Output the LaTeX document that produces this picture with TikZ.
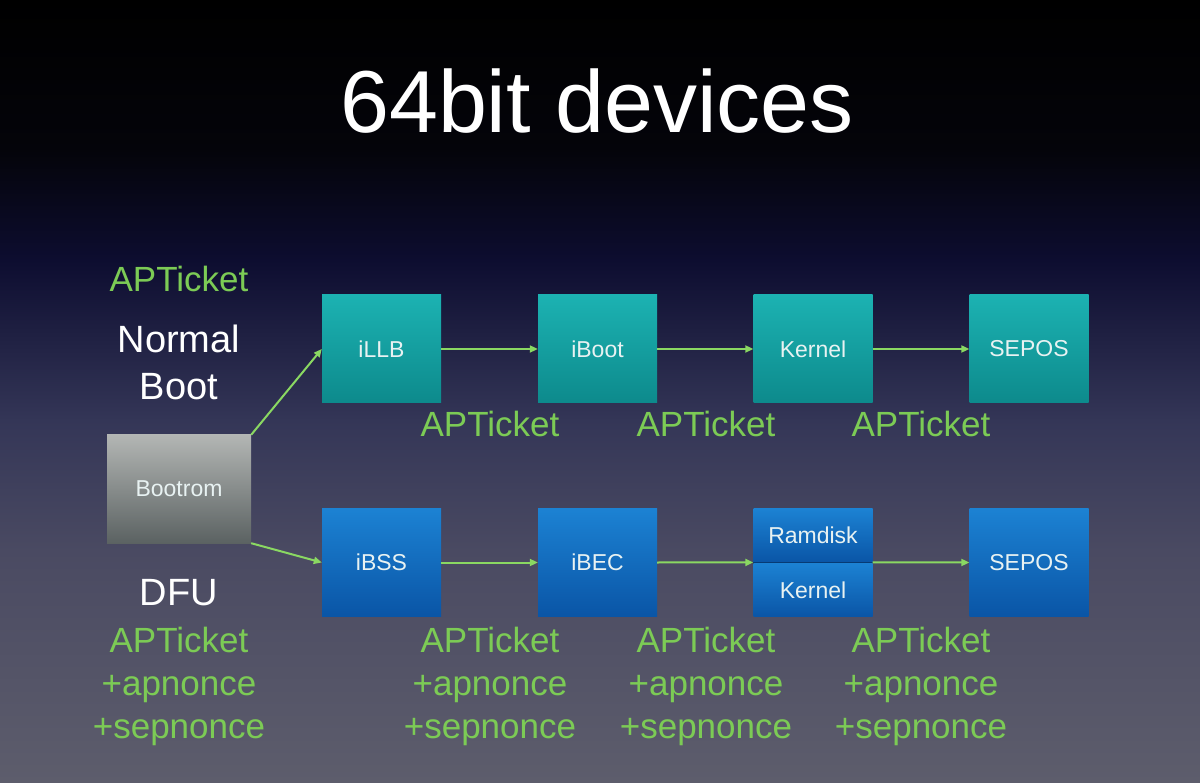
\documentclass[tikz,border=0pt]{standalone}
\usepackage{fontspec}
\setmainfont{Liberation Sans}
\usetikzlibrary{arrows.meta}

\definecolor{bgA}{HTML}{000000}
\definecolor{bgB}{HTML}{04040A}
\definecolor{bgC}{HTML}{0D0D30}
\definecolor{bgD}{HTML}{343657}
\definecolor{bgE}{HTML}{4A4A62}
\definecolor{bgF}{HTML}{5D5D6C}
\definecolor{tealtop}{HTML}{1CB2B2}
\definecolor{tealbot}{HTML}{0D8A8C}
\definecolor{bluetop}{HTML}{1C82D3}
\definecolor{bluebot}{HTML}{0A55A6}
\definecolor{romtop}{HTML}{B3B6B4}
\definecolor{rombot}{HTML}{5B6262}
\definecolor{boxtext}{HTML}{E8F2F2}
\definecolor{ticketgreen}{HTML}{7CCB55}
\definecolor{flowgreen}{HTML}{8AD862}

\begin{document}
\begin{tikzpicture}[x=1pt,y=-1pt,
  stage/.style={minimum width=119pt,minimum height=108pt,inner sep=0pt,
    text=boxtext,font=\fontsize{23}{27}\selectfont},
  tealbox/.style={top color=tealtop,bottom color=tealbot},
  bluebox/.style={top color=bluetop,bottom color=bluebot},
  halfbox/.style={stage,bluebox,minimum height=53.5pt},
  flow/.style={flowgreen,line width=2pt,-{Triangle[length=8pt,width=7pt]}},
  ticket/.style={anchor=base,text=ticketgreen,font=\fontsize{35}{40}\selectfont},
  caption/.style={anchor=base,text=white,font=\fontsize{38}{44}\selectfont}]
\useasboundingbox (0,0) rectangle (1200,783);

% slide background
\shade[top color=bgA,bottom color=bgB] (0,0) rectangle (1200,151);
\shade[top color=bgB,bottom color=bgC] (0,150) rectangle (1200,261);
\shade[top color=bgC,bottom color=bgD] (0,260) rectangle (1200,421);
\shade[top color=bgD,bottom color=bgE] (0,420) rectangle (1200,551);
\shade[top color=bgE,bottom color=bgF] (0,550) rectangle (1200,783);

\node[anchor=base,text=white,font=\fontsize{88}{100}\selectfont] (title) at (597,133) {64bit devices};

% normal boot chain
\node[stage,tealbox] (illb) at (381.5,349) {iLLB};
\node[stage,tealbox] (iboot) at (597.5,349) {iBoot};
\node[stage,tealbox] (kernel) at (813,349) {Kernel};
\node[stage,tealbox] (sepos) at (1029,349) {SEPOS};

% dfu chain
\node[stage,bluebox] (ibss) at (381.5,562.5) {iBSS};
\node[stage,bluebox] (ibec) at (597.5,562.5) {iBEC};
\node[halfbox] (ramdisk) at (813,535.5) {Ramdisk};
\node[halfbox] (dfukernel) at (813,590) {Kernel};
\node[stage,bluebox] (dfusepos) at (1029,562.5) {SEPOS};
\draw[bluebot!70!black,line width=1.2pt] (ramdisk.south west) -- (ramdisk.south east);

\node[stage,top color=romtop,bottom color=rombot,minimum width=144pt] (bootrom) at (179,489) {Bootrom};

\draw[flow] (bootrom.north east) -- (illb.west);
\draw[flow] (bootrom.south east) -- (ibss.west);
\draw[flow] (illb) -- (iboot);
\draw[flow] (iboot) -- (kernel);
\draw[flow] (kernel) -- (sepos);
\draw[flow] (ibss) -- (ibec);
\draw[flow] (ibec.east) -- (ramdisk.south west);
\draw[flow] (ramdisk.south east) -- (dfusepos.west);

% labels
\node[ticket] (bootticket) at (179,292) {APTicket};
\node[caption] (normal) at (179,353) {Normal};
\node[caption] (boot) at (179,400) {Boot};
\node[caption] (dfu) at (179,605) {DFU};
\node[ticket] (dfuticket) at (179,652) {APTicket};
\node[ticket] (dfuap) at (179,695) {+apnonce};
\node[ticket] (dfusep) at (179,738) {+sepnonce};

\foreach \x/\n in {490/a,706/b,921/c}{
  \node[ticket] (top\n) at (\x,437) {APTicket};
  \node[ticket] (low\n) at (\x,652) {APTicket};
  \node[ticket] (ap\n) at (\x,695) {+apnonce};
  \node[ticket] (sep\n) at (\x,738) {+sepnonce};
}
\end{tikzpicture}
\end{document}
